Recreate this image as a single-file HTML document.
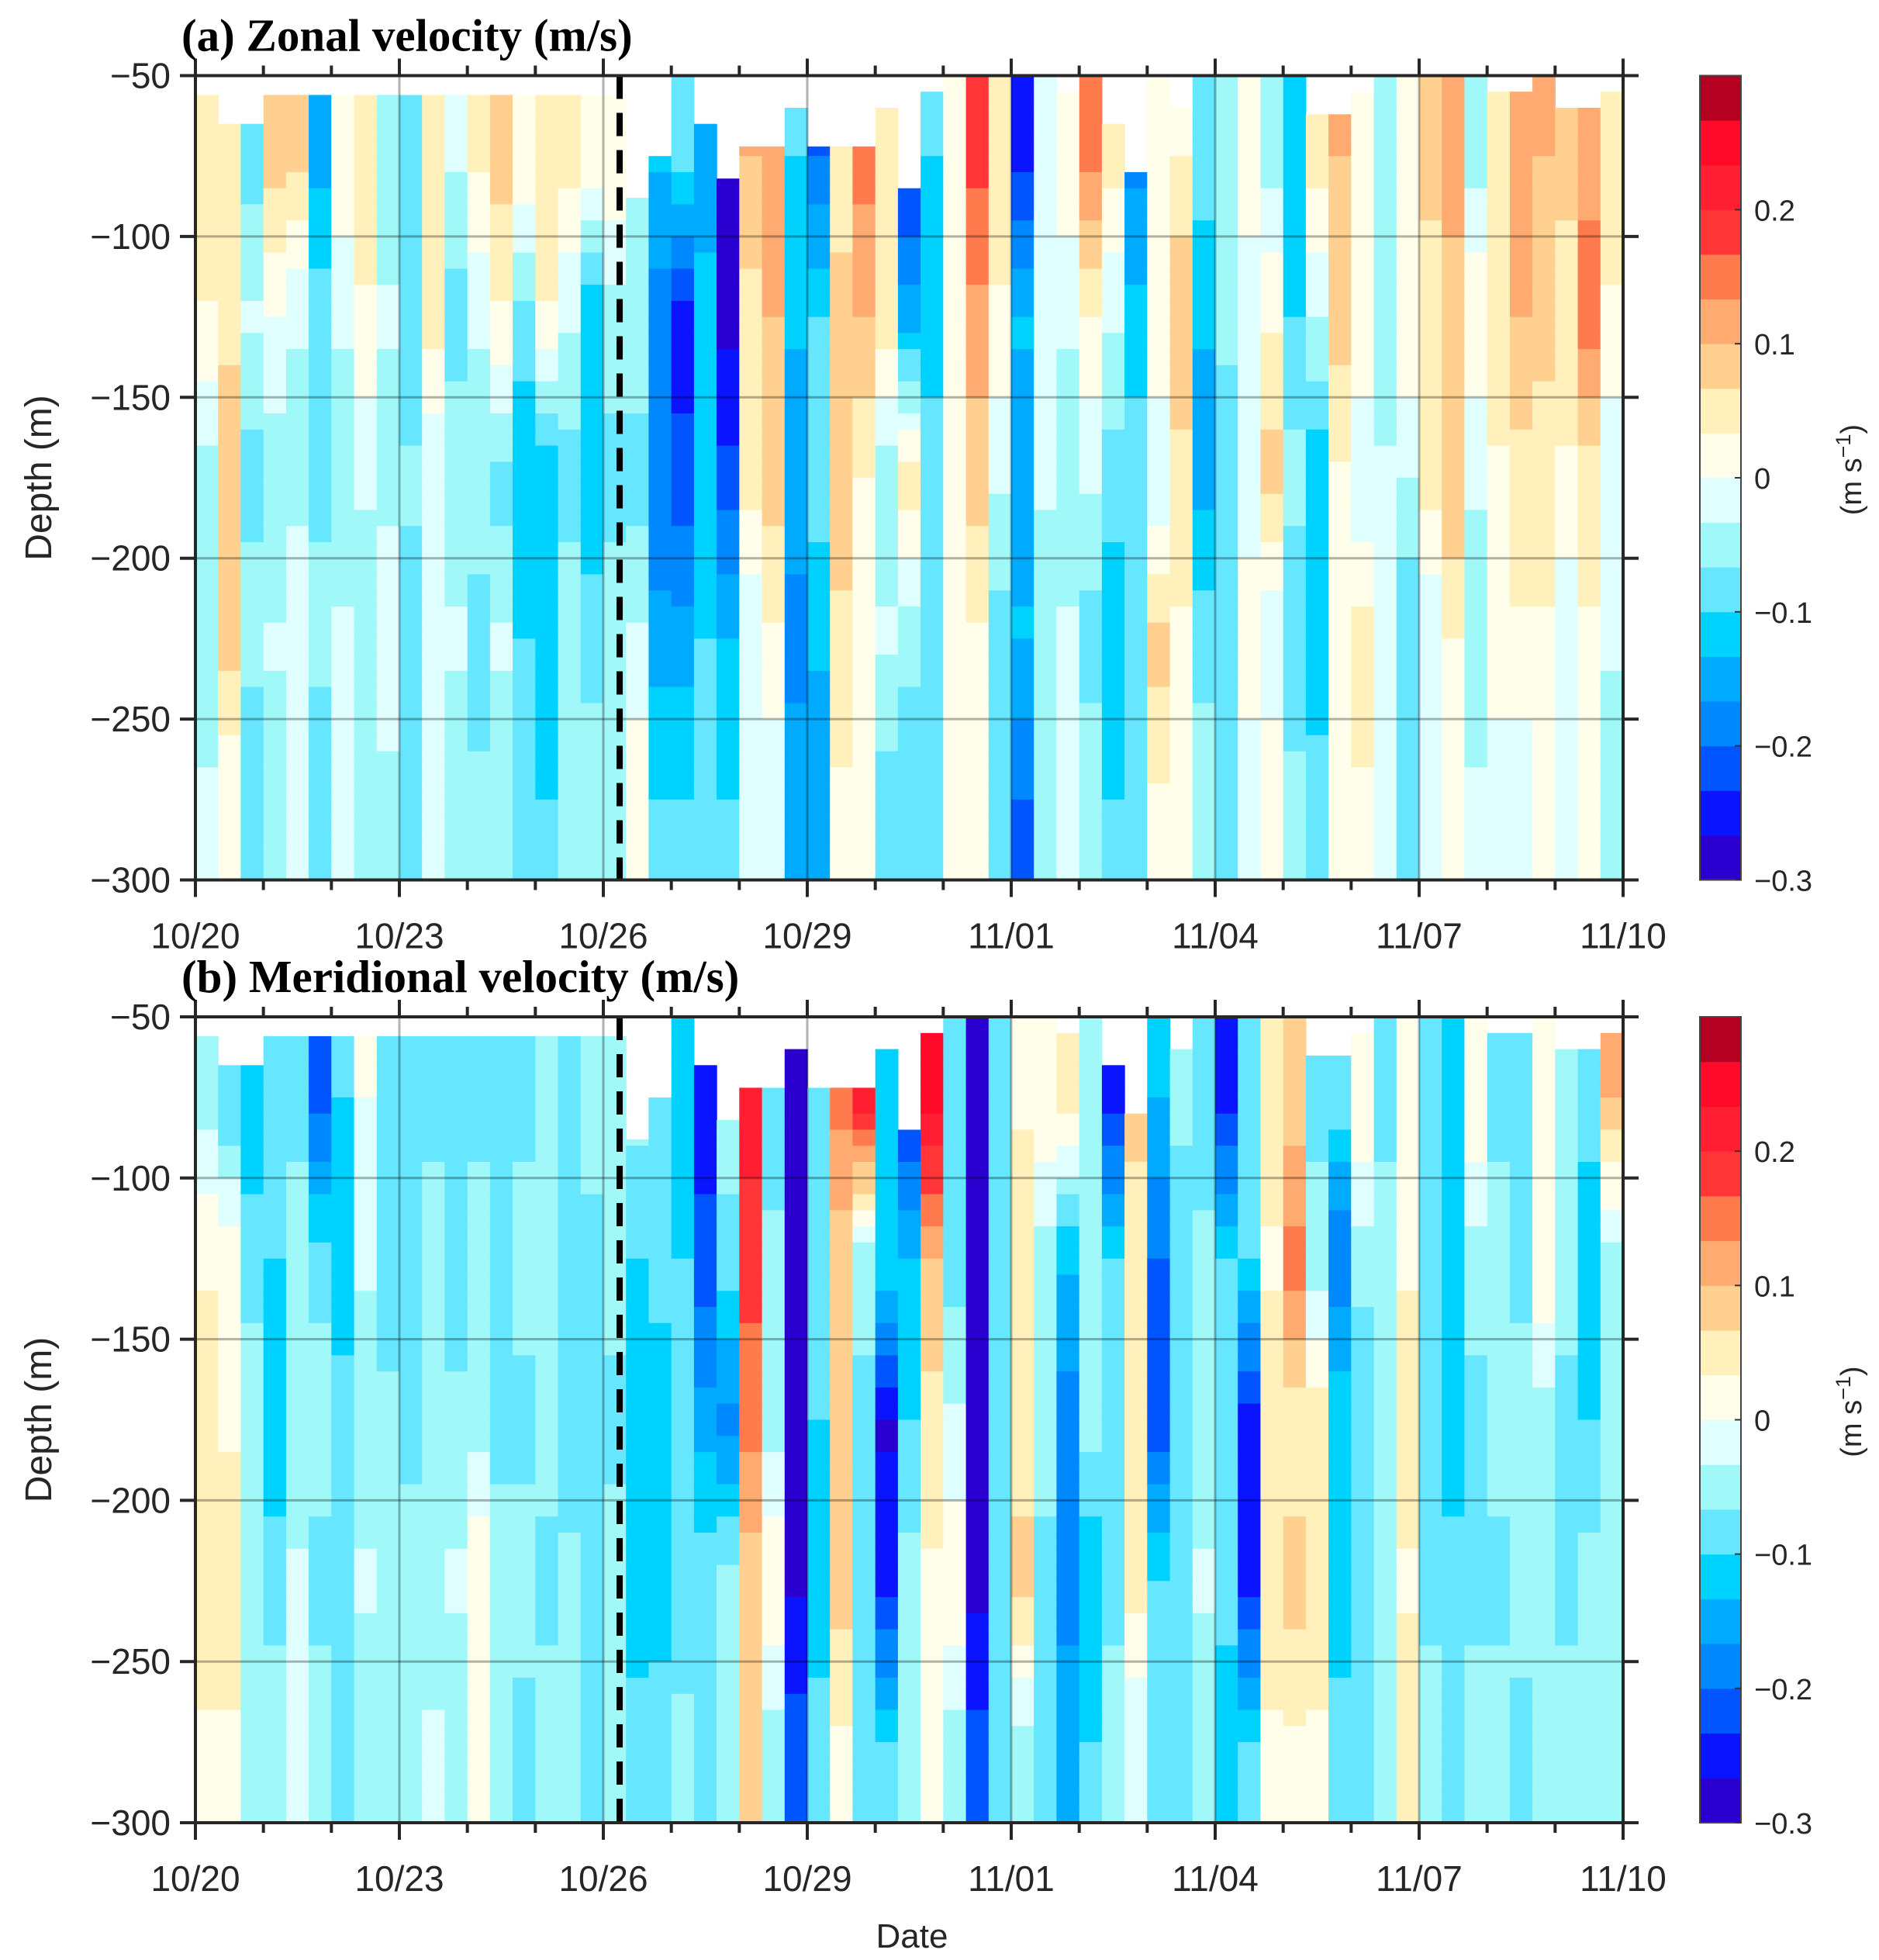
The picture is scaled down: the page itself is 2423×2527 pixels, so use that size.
<!DOCTYPE html>
<html><head><meta charset="utf-8">
<style>
html,body{margin:0;padding:0;background:#fff;}
svg{display:block;}
</style></head>
<body>
<svg id="fig" xmlns="http://www.w3.org/2000/svg" width="2423" height="2527" viewBox="0 0 2423 2527">
<rect width="2423" height="2527" fill="#fff"/>
</svg>
<script>
// ---- data (cm/s), columns every 1/3 day from 10/20 00:00, 5 depth bins of 50 m ----
const dayTickLabels = ["10/20","10/23","10/26","10/29","11/01","11/04","11/07","11/10"];
const depthTicks = [-50,-100,-150,-200,-250,-300];
const cbarTicks = [0.2,0.1,0,-0.1,-0.2,-0.3];
const eventDay = 6.24;
const topGap = [56,65,65,56,56,56,56,56,56,56,56,56,56,56,56,56,56,56,56,88,75,50,65,82,72,72,60,72,72,72,60,85,55,50,50,50,50,50,55,50,65,80,50,60,50,50,50,50,50,62,62,55,50,50,50,50,50,55,55,50,60,60,55];
// zonal velocity
const zonal0 = [6,5,-8,8,8,-15,3,5,-5,-8,6,-3,4,8,3,6,5,3,3,-3,-13,-8,-15,-30,10,12,-10,-20,5,15,5,-25,-10,3,18,5,-25,-3,3,15,5,-18,3,3,-8,-5,3,-5,-13,5,10,3,-5,3,8,12,-5,5,10,10,8,12,5];
const zonal1 = [3,6,-3,0,-3,-8,-3,3,-3,-10,5,-8,-3,3,-8,3,-3,-13,-5,-5,-18,-25,-12,-28,5,10,-13,-10,8,10,5,-15,-12,3,12,3,-13,-3,-3,3,-3,-12,3,10,-13,-5,-3,3,-10,-3,8,3,-5,3,5,8,3,5,10,8,5,15,3];
const zonal2 = [-5,8,-8,-6,-5,-8,-5,-3,-5,-6,-3,-5,-5,-8,-13,-13,-8,-13,-8,-8,-20,-22,-13,-22,5,8,-15,-8,10,3,-5,5,-8,3,8,-3,-15,-3,-5,-3,-8,-8,-3,5,-15,-10,-3,8,-5,-13,3,-3,-3,-3,5,10,-3,3,5,5,3,5,-3];
const zonal3 = [-5,8,-5,-3,0,-5,-3,-5,0,-8,-3,-3,-8,-3,-10,-12,-5,-8,-5,-3,-15,-15,-10,-13,-3,3,-18,-13,5,3,-3,-5,-8,3,3,-8,-13,-5,-3,-8,-13,-10,8,3,-8,-8,3,-3,-10,-13,3,5,-3,-10,-3,3,-5,3,3,3,-3,3,-3];
const zonal4 = [-3,0,-10,-5,-3,-10,-3,-5,-5,-8,-3,-5,-6,-5,-10,-10,-5,-5,-5,3,-10,-10,-8,-10,-3,-3,-15,-15,3,0,-8,-10,-10,0,0,-8,-20,-5,-3,-5,-10,-8,3,3,-5,-8,-3,3,-5,-8,3,3,-3,-8,-3,3,-3,-3,-3,3,-3,3,-5];
// meridional velocity
const merid0 = [-5,-10,-13,-8,-8,-22,-10,0,-8,-10,-8,-10,-8,-10,-8,-5,-10,-5,-5,-5,-8,-13,-25,-5,22,-10,-28,-10,15,22,-13,-25,25,-10,-28,-10,3,3,5,-5,-25,8,-13,-5,-10,-25,-8,5,8,-8,-8,3,-8,3,-8,-13,3,-8,-10,3,-5,-8,10];
const merid1 = [3,3,-8,-10,-5,-8,-13,-3,-10,-8,-5,-10,-5,-10,-5,-5,-10,-8,-5,-10,-8,-10,-22,-8,18,-5,-27,-8,8,-5,-10,-13,10,-8,-28,-8,5,-5,-13,-5,-10,5,-20,-10,-5,-10,-10,3,15,-5,-20,-5,-5,3,-10,-10,-5,-5,-8,3,-5,-13,-5];
const merid2 = [5,3,-5,-13,-5,-5,-8,-5,-5,-8,-5,-5,-5,-8,-8,-5,-10,-10,-8,-13,-13,-8,-15,-18,15,-5,-27,-10,8,-8,-27,-10,5,-3,-28,-8,5,-5,-18,-5,-8,5,-22,-8,-5,-8,-25,5,5,5,-10,-10,-5,5,-8,-13,-8,-5,-5,-5,-8,-10,-5];
const merid3 = [5,5,-5,-8,-3,-8,-10,-3,-5,-5,-5,-3,3,-5,-5,-8,-5,-8,-5,-13,-12,-10,-8,-5,8,3,-27,-13,8,-8,-25,-5,3,3,-28,-8,8,-8,-18,-13,-8,5,-10,-8,-3,-8,-25,5,8,5,-13,-10,-5,3,-8,-8,-8,-8,-5,-5,-8,-5,-5];
const merid4 = [3,3,-5,-5,-3,-5,-8,-5,-5,-5,-3,-5,3,-5,-8,-5,-5,-8,-5,-8,-8,-5,-8,-5,8,-5,-22,-8,3,-8,-10,-5,3,-5,-22,-8,-5,-8,-15,-10,-5,-3,-8,-8,-5,-13,-10,3,3,3,-8,-8,-5,5,-5,-10,-5,-5,-8,-5,-5,-5,-5];

const colors = ["#2A00D0","#0A14FF","#0055FF","#0088FF","#00AAFF","#00D2FF","#66E6FF","#A0F8F8","#E0FFFF","#FFFEEB","#FFF0BC","#FFD08F","#FFAA70","#FF7A4C","#FF3538","#FF1E32","#FF0A28","#B40021"];

const NS="http://www.w3.org/2000/svg";
const svg=document.getElementById('fig');
const X0=252, X1=2093, NDAYS=21;
function xScale(d){return X0+(X1-X0)*d/NDAYS;}
function mk(tag,attrs,parent){const e=document.createElementNS(NS,tag);for(const k in attrs)e.setAttribute(k,attrs[k]);(parent||svg).appendChild(e);return e;}
function colorFor(v){let i=Math.floor((v/100+0.3)/(0.6/18));if(i<0)i=0;if(i>17)i=17;return colors[i];}
// value at depth d (negative) for column c, linear between bin centres (render smoothing only)
function valueAt(rows,c,d){
  const pos=(-d-75)/50; // 0 at centre of bin 0
  if(pos<=0)return rows[0][c];
  if(pos>=rows.length-1)return rows[rows.length-1][c];
  const i=Math.floor(pos),f=pos-i;
  return rows[i][c]*(1-f)+rows[i+1][c]*f;
}

function panel(key,title,rows,Y0,Y1){
  const yScale=d=>Y0+(Y1-Y0)*(-50-d)/250;
  const g=mk('g',{});
  
  
  const hm=mk('g',{},g);
  
  
  const ncol=rows[0].length;
  const STEP=5;
  for(let c=0;c<ncol;c++){
    const x0=xScale(c*NDAYS/ncol), x1=xScale((c+1)*NDAYS/ncol);
    const gap=-topGap[c];
    for(let dTop=-50;dTop>-300;dTop-=STEP){
      const dBot=dTop-STEP;
      if(dBot>=gap) continue;
      const top=Math.min(dTop,gap);
      const v=valueAt(rows,c,(top+dBot)/2);
      const y0=yScale(top), y1=yScale(dBot);
      const cell=mk('rect',{x:x0.toFixed(1),y:y0.toFixed(1),width:(x1-x0+0.6).toFixed(1),height:(y1-y0+0.6).toFixed(1),fill:colorFor(v)},hm);
      
      
    }
  }
  for(let i=0;i<dayTickLabels.length;i++){
    const x=xScale(i*3);
    const l=mk('line',{x1:x,x2:x,y1:Y0,y2:Y1,stroke:'#000','stroke-opacity':0.3,'stroke-width':3},g);
    
    
  }
  depthTicks.forEach(d=>{
    const y=yScale(d);
    const l=mk('line',{x1:X0,x2:X1,y1:y,y2:y,stroke:'#000','stroke-opacity':0.3,'stroke-width':3},g);
    
    
  });
  const ex=xScale(eventDay);
  const ev=mk('line',{x1:ex,x2:ex,y1:Y0,y2:Y1,stroke:'#000','stroke-width':8,'stroke-dasharray':'30 18'},g);
  
  
  const fr=mk('rect',{x:X0,y:Y0,width:X1-X0,height:Y1-Y0,fill:'none',stroke:'#262626','stroke-width':4},g);
  
  
  for(let d=0;d<=NDAYS;d++){
    const x=xScale(d), L=(d%3===0)?22:13;
    const t1=mk('line',{x1:x,x2:x,y1:Y1,y2:Y1+L,stroke:'#262626','stroke-width':4},g);
    
    
    const t2=mk('line',{x1:x,x2:x,y1:Y0,y2:Y0-L,stroke:'#262626','stroke-width':4},g);
    
    
  }
  dayTickLabels.forEach((lab,i)=>{
    const t=mk('text',{x:xScale(i*3),y:Y1+88,'text-anchor':'middle','font-family':'Liberation Sans, sans-serif','font-size':46,fill:'#262626'},g);
    t.textContent=lab;
    
    
  });
  depthTicks.forEach(d=>{
    const y=yScale(d);
    const a=mk('line',{x1:X0-20,x2:X0,y1:y,y2:y,stroke:'#262626','stroke-width':4},g);
    
    
    const b=mk('line',{x1:X1,x2:X1+20,y1:y,y2:y,stroke:'#262626','stroke-width':4},g);
    
    
    const t=mk('text',{x:X0-32,y:y+16,'text-anchor':'end','font-family':'Liberation Sans, sans-serif','font-size':46,fill:'#262626'},g);
    t.textContent=String(d).replace('-','\u2212');
    
    
  });
  const yt=mk('text',{x:0,y:0,transform:`translate(66,${(Y0+Y1)/2}) rotate(-90)`,'text-anchor':'middle','font-family':'Liberation Sans, sans-serif','font-size':48,fill:'#262626'},g);
  yt.textContent='Depth (m)';
  
  
  const tt=mk('text',{x:234,y:Y0-32,'font-family':'Liberation Serif, serif','font-weight':'bold','font-size':59,fill:'#000'},g);
  tt.textContent=title;
  
  
  const CX=2192,CW=53;
  const cb=mk('g',{},g);
  
  
  const cbY=v=>Y0+(Y1-Y0)*(0.3-v)/0.6;
  for(let i=0;i<colors.length;i++){
    const v0=-0.3+i*0.6/18, v1=v0+0.6/18;
    const r=mk('rect',{x:CX,y:cbY(v1),width:CW,height:cbY(v0)-cbY(v1)+0.5,fill:colors[i]},cb);
    
    
  }
  mk('rect',{x:CX,y:Y0,width:CW,height:Y1-Y0,fill:'none',stroke:'#444','stroke-width':2},cb);
  cbarTicks.forEach(v=>{
    const y=cbY(v);
    mk('line',{x1:CX+CW-8,x2:CX+CW,y1:y,y2:y,stroke:'#333','stroke-width':2},cb);
    const t=mk('text',{x:2262,y:y+14,'font-family':'Liberation Sans, sans-serif','font-size':38,fill:'#262626'},cb);
    t.textContent=(v<0?'\u2212':'')+Math.abs(v).toString();
    
    
  });
  const ul=mk('text',{x:0,y:0,transform:`translate(2400,${Y0+(Y1-Y0)*0.49}) rotate(-90)`,'text-anchor':'middle','font-family':'Liberation Sans, sans-serif','font-size':38,fill:'#262626'},cb);
  ul.innerHTML='(m s<tspan dy="-14" font-size="27">\u22121</tspan><tspan dy="14">)</tspan>';
  
  
}
panel('zonal','(a) Zonal velocity (m/s)',[zonal0,zonal1,zonal2,zonal3,zonal4],97.5,1134.5);
panel('meridional','(b) Meridional velocity (m/s)',[merid0,merid1,merid2,merid3,merid4],1311,2350);
const dt=mk('text',{x:1176,y:2511,'text-anchor':'middle','font-family':'Liberation Sans, sans-serif','font-size':44,fill:'#262626'});
dt.textContent='Date';


</script>
</body></html>
